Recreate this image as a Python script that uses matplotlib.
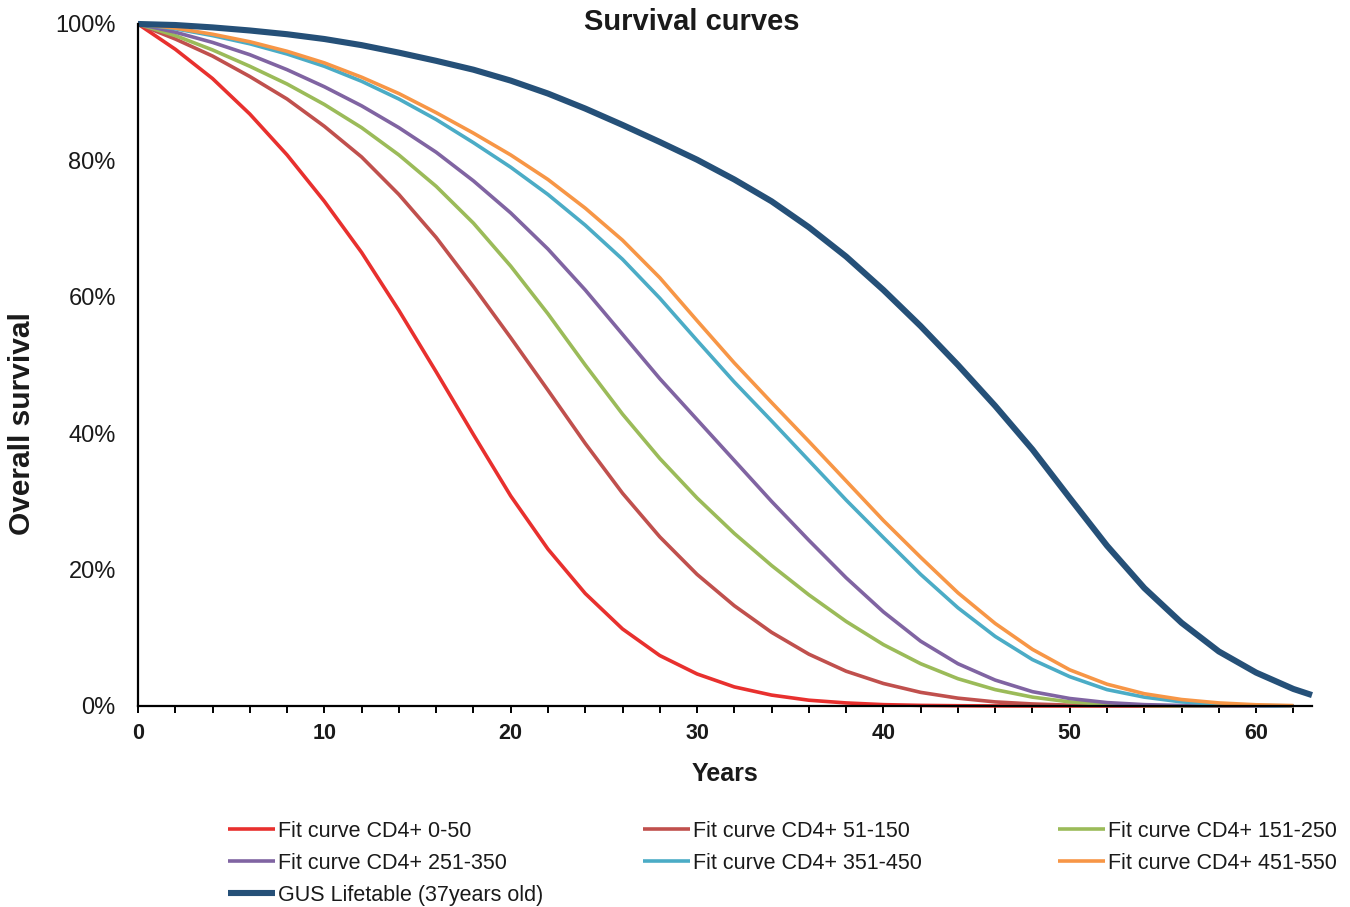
"""Survival curves by CD4+ group against the GUS life table."""

import matplotlib

matplotlib.use("Agg")

import matplotlib.pyplot as plt
from matplotlib.ticker import FuncFormatter, MultipleLocator

plt.rcParams["font.family"] = ["Liberation Sans", "DejaVu Sans"]

years_fit = [0, 2, 4, 6, 8, 10, 12, 14, 16, 18, 20, 22, 24, 26, 28, 30, 32,
             34, 36, 38, 40, 42, 44, 46, 48, 50, 52, 54, 56, 58, 60, 62]

cd4_0_50 = [100, 96.3, 92, 86.8, 80.8, 74, 66.5, 58, 49, 39.8, 30.8, 23,
            16.5, 11.3, 7.4, 4.7, 2.8, 1.6, 0.85, 0.45, 0.2, 0.09, 0.04, 0.01,
            0, 0, 0, 0, 0, 0, 0, 0]
cd4_51_150 = [100, 97.8, 95.3, 92.3, 89, 85, 80.5, 75, 68.7, 61.5, 54, 46.3,
              38.5, 31.2, 24.8, 19.3, 14.7, 10.8, 7.6, 5.1, 3.3, 2, 1.15, 0.6,
              0.3, 0.12, 0.04, 0, 0, 0, 0, 0]
cd4_151_250 = [100, 98.3, 96.2, 93.8, 91.2, 88.2, 84.8, 80.8, 76.2, 70.8, 64.5,
               57.5, 50, 42.8, 36.3, 30.5, 25.3, 20.6, 16.3, 12.4, 9, 6.2, 4,
               2.4, 1.3, 0.6, 0.25, 0.08, 0.02, 0, 0, 0]
cd4_251_350 = [100, 98.8, 97.3, 95.5, 93.3, 90.8, 88, 84.8, 81.2, 77, 72.3,
               67, 61, 54.5, 48, 42, 36, 30, 24.3, 18.8, 13.8, 9.5, 6.2, 3.8,
               2.1, 1.1, 0.5, 0.2, 0.07, 0.02, 0, 0]
cd4_351_450 = [100, 99.3, 98.3, 97.1, 95.6, 93.8, 91.6, 89, 86, 82.6, 79, 75,
               70.5, 65.5, 59.8, 53.6, 47.5, 41.8, 36, 30.2, 24.7, 19.3, 14.4,
               10.2, 6.8, 4.3, 2.4, 1.3, 0.6, 0.25, 0.08, 0.02]
cd4_451_550 = [100, 99.4, 98.5, 97.4, 96, 94.3, 92.2, 89.8, 87, 84, 80.8,
               77.2, 73, 68.3, 62.8, 56.5, 50.3, 44.5, 38.8, 33, 27.2, 21.8,
               16.6, 12.1, 8.3, 5.3, 3.2, 1.8, 0.95, 0.45, 0.18, 0.06]

years_gus = [0, 2, 4, 6, 8, 10, 12, 14, 16, 18, 20, 22, 24, 26, 28, 30, 32,
             34, 36, 38, 40, 42, 44, 46, 48, 50, 52, 54, 56, 58, 60, 62, 63]
gus_lifetable = [100, 99.85, 99.5, 99.05, 98.5, 97.8, 96.9, 95.8, 94.6, 93.3,
                 91.7, 89.8, 87.6, 85.2, 82.7, 80.1, 77.2, 74, 70.2, 65.9, 61,
                 55.7, 50, 44, 37.6, 30.5, 23.5, 17.3, 12.2, 8, 4.9, 2.5, 1.6]

fit_series = [
    ("Fit curve CD4+ 0-50", cd4_0_50, "#E8302E"),
    ("Fit curve CD4+ 51-150", cd4_51_150, "#C0504D"),
    ("Fit curve CD4+ 151-250", cd4_151_250, "#9BBB59"),
    ("Fit curve CD4+ 251-350", cd4_251_350, "#8064A2"),
    ("Fit curve CD4+ 351-450", cd4_351_450, "#4BACC6"),
    ("Fit curve CD4+ 451-550", cd4_451_550, "#F79646"),
]

fig = plt.figure(figsize=(13.5, 9.07), dpi=100)
ax = fig.add_axes([138 / 1350, 1 - 706 / 907, (1312 - 138) / 1350, (706 - 24) / 907])

lines = []
for label, values, color in fit_series:
    (ln,) = ax.plot(years_fit, values, color=color, lw=2.6, label=label,
                    solid_capstyle="butt", solid_joinstyle="round", clip_on=False)
    lines.append(ln)
(gus_line,) = ax.plot(years_gus, gus_lifetable, color="#255078", lw=4.4,
                      label="GUS Lifetable (37years old)", solid_capstyle="butt",
                      solid_joinstyle="round", clip_on=False)
lines.append(gus_line)

ax.set_xlim(0, 63)
ax.set_ylim(0, 100)
ax.spines["top"].set_visible(False)
ax.spines["right"].set_visible(False)
ax.spines["left"].set_linewidth(1.6)
ax.spines["bottom"].set_linewidth(1.6)

ax.xaxis.set_major_locator(MultipleLocator(10))
ax.xaxis.set_minor_locator(MultipleLocator(2))
ax.yaxis.set_major_locator(MultipleLocator(20))
ax.yaxis.set_major_formatter(FuncFormatter(lambda v, _: f"{v:.0f}%"))
ax.tick_params(axis="x", which="both", direction="out", length=5, width=1.4,
               pad=7, labelsize=15.5, labelcolor="#1a1a1a")
ax.tick_params(axis="y", length=0, pad=16, labelsize=17, labelcolor="#1a1a1a")
for lbl in ax.get_xticklabels():
    lbl.set_fontweight("bold")

ax.set_xlabel("Years", fontsize=18, fontweight="bold", color="#1a1a1a", labelpad=13)
fig.text(22 / 1350, 1 - 424 / 907, "Overall survival", rotation=90, fontsize=21.5,
         fontweight="bold", color="#1a1a1a", ha="center", va="center")
fig.text(692 / 1350, 1 - 22 / 907, "Survival curves", fontsize=21,
         fontweight="bold", color="#1a1a1a", ha="center", va="center")

# three legend columns, filled row by row like the source
columns = [[lines[0], lines[3], lines[6]], [lines[1], lines[4]], [lines[2], lines[5]]]
col_x = [228, 643, 1058]
for handles, x0 in zip(columns, col_x):
    leg = fig.legend(handles=handles, loc="upper left",
                     bbox_to_anchor=(x0 / 1350, 1 - 821 / 907), frameon=False,
                     prop={"family": ["Liberation Sans Narrow", "Liberation Sans"],
                           "size": 15.5},
                     handlelength=2.2, handletextpad=0.1, labelspacing=0.5,
                     borderaxespad=0, borderpad=0)
    for t in leg.get_texts():
        t.set_color("#1a1a1a")

fig.savefig("out.png", dpi=100)
